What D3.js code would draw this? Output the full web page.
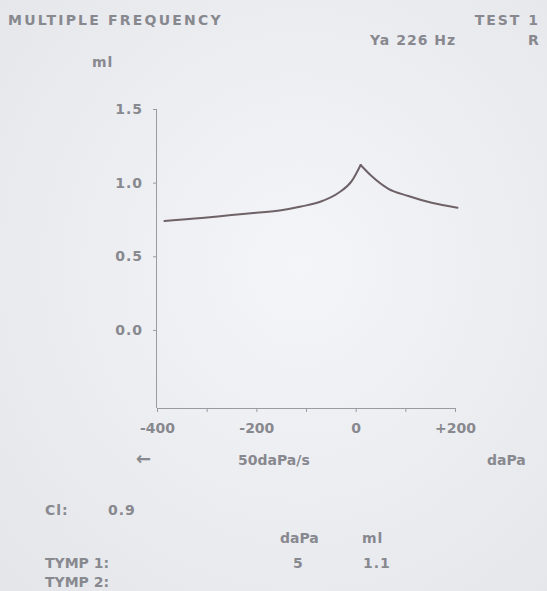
<!DOCTYPE html>
<html>
<head>
<meta charset="utf-8">
<script src="https://cdn.jsdelivr.net/npm/d3@7"></script>
<style>
html,body{margin:0;padding:0;background:#eceef2;}
svg{display:block;}
text{font-family:"DejaVu Sans",sans-serif;fill:#88888f;font-weight:bold;}
</style>
</head>
<body>
<script>
// Data
const pressure = [-385,-310,-250,-200,-150,-110,-70,-35,-8,10,32,66,106,153,205];
const admittance = [0.74,0.76,0.78,0.795,0.813,0.838,0.872,0.93,1.01,1.12,1.045,0.958,0.909,0.863,0.83];
const xTicks = [-400,-300,-200,-100,0,100,200];
const xTickLabels = {"-400":"-400","-200":"-200","0":"0","200":"+200"};
const yTicks = [0,0.5,1.0,1.5];
const yTickLabels = ["0.0","0.5","1.0","1.5"];

const W = 547, H = 591;
const svg = d3.select("body").append("svg").attr("width", W).attr("height", H);

const defs = svg.append("defs");
const rg = defs.append("radialGradient").attr("id","bg").attr("cx","55%").attr("cy","45%").attr("r","75%");
rg.append("stop").attr("offset","0%").attr("stop-color","#f4f5f8");
rg.append("stop").attr("offset","100%").attr("stop-color","#e4e6ea");
svg.append("rect").attr("width",W).attr("height",H).attr("fill","url(#bg)");

const x = d3.scaleLinear().domain([-400,200]).range([157,455]);
const y = d3.scaleLinear().domain([-0.53,1.5]).range([408,109]);

const axisColor = "#9a9aa2";
const fs = "14px";

// Y axis
const yAxis = d3.axisLeft(y).tickValues(yTicks).tickSize(4).tickPadding(10)
  .tickFormat((d,i)=>yTickLabels[i]);
const gy = svg.append("g").attr("transform",`translate(${x(-400)},0)`).call(yAxis);
gy.select(".domain").attr("stroke",axisColor).attr("d",`M-0.5,${y(1.5)}V${y(-0.53)}`);
gy.selectAll(".tick line").attr("stroke",axisColor);
gy.selectAll(".tick text").attr("fill","#88888f").style("font-size",fs)
  .style("font-family","DejaVu Sans").style("font-weight","bold").style("letter-spacing","1px");

// X axis
const xAxis = d3.axisBottom(x).tickValues(xTicks).tickSize(4).tickPadding(11)
  .tickFormat(d => xTickLabels[String(d)] || "");
const gx = svg.append("g").attr("transform",`translate(0,${y(-0.53)})`).call(xAxis);
gx.select(".domain").attr("stroke",axisColor).attr("d",`M${x(-400)},0.5H${x(200)}`);
gx.selectAll(".tick line").attr("stroke",axisColor);
gx.selectAll(".tick text").attr("fill","#88888f").style("font-size",fs)
  .style("font-family","DejaVu Sans").style("font-weight","bold");

// Curve: two monotone branches meeting at the sharp peak
const pts = pressure.map((p,i)=>[p, admittance[i]]);
const peakIdx = d3.maxIndex(admittance);
const line = d3.line().x(d=>x(d[0])).y(d=>y(d[1])).curve(d3.curveMonotoneX);
const branches = [pts.slice(0, peakIdx+1), pts.slice(peakIdx)];
svg.selectAll("path.curve").data(branches).join("path").attr("class","curve")
  .attr("fill","none").attr("stroke","#6e6266").attr("stroke-width",2)
  .attr("stroke-linecap","round")
  .attr("d", line);

// Texts
function t(str, xx, yy, opts={}) {
  const el = svg.append("text").attr("x",xx).attr("y",yy).text(str)
    .style("font-size", opts.size || fs)
    .style("letter-spacing", opts.ls || "1px");
  if (opts.fill) el.attr("fill", opts.fill);
  if (opts.anchor) el.attr("text-anchor", opts.anchor);
  return el;
}
t("MULTIPLE FREQUENCY", 8, 25, {ls:"2.2px"});
t("TEST 1", 540, 25, {anchor:"end", ls:"2px"});
t("Ya  226 Hz", 370, 45, {ls:"1px"});
t("R", 528, 45);
t("ml", 92, 67);
t("\u2190", 136, 465, {size:"18px", fill:"#505058"});
t("50daPa/s", 238, 465, {ls:"0px"});
t("daPa", 487, 465, {ls:"0px"});
t("Cl:", 45, 515);
t("0.9", 108, 515);
t("daPa", 280, 543, {ls:"0px"});
t("ml", 362, 543);
t("TYMP 1:", 45, 568, {fill:"#a06882", ls:"0px"});
t("5", 293, 568);
t("1.1", 363, 568);
t("TYMP 2:", 45, 587, {fill:"#a06882", ls:"0px"});
</script>
</body>
</html>
